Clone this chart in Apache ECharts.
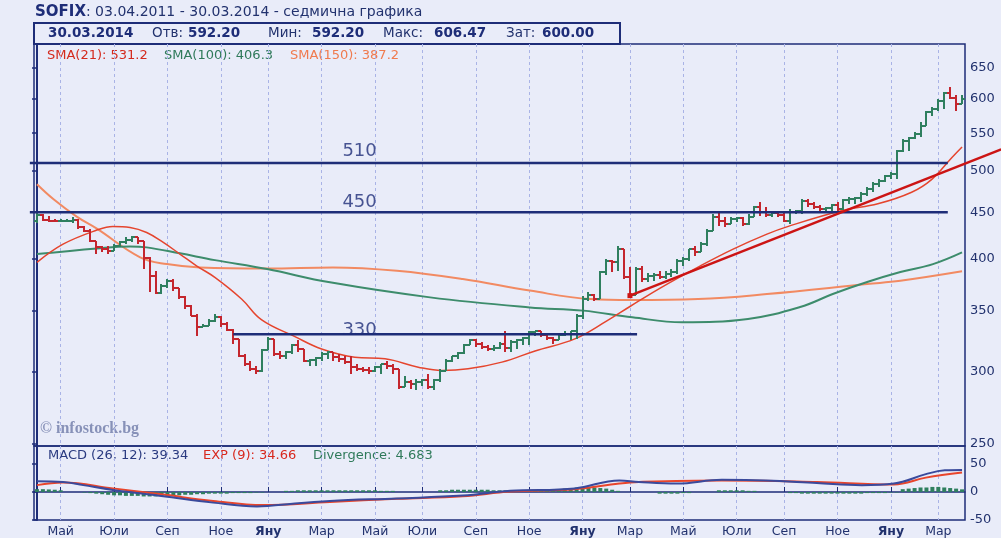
<!DOCTYPE html>
<html><head><meta charset="utf-8">
<script src="https://cdn.jsdelivr.net/npm/echarts/dist/echarts.min.js"></script>
<style>html,body{margin:0;padding:0;background:#e9ecf9}#c{width:1001px;height:538px}</style>
</head><body><div id="c"></div><script>
// ---- weekly OHLC, SOFIX 03.04.2011 - 30.03.2014 (157 weeks) ----
const open = [440.1,446.5,441.2,440.1,439.8,439.8,440.3,441.2,432.9,429.1,418.4,411.5,409.7,407.9,413.1,416.7,419.5,422.0,418.4,400.2,382.9,366.4,372.7,378.0,370.9,362.4,354.3,346.0,336.0,337.3,341.6,345.1,338.8,333.6,326.1,312.6,306.0,302.2,300.9,317.4,326.1,313.9,312.6,315.3,320.7,317.9,308.6,309.2,310.6,313.9,315.3,311.3,310.0,307.4,303.5,302.2,301.6,300.9,303.5,306.0,304.7,302.2,288.6,292.3,291.1,292.3,293.5,288.6,293.5,300.9,308.6,312.1,314.5,320.7,325.5,322.1,319.4,317.9,318.5,322.1,318.5,323.4,324.8,326.7,331.5,332.3,329.5,326.7,324.8,329.5,330.3,332.6,345.7,360.9,364.6,360.9,386.5,397.4,396.4,409.7,381.6,364.6,389.4,379.7,382.6,383.5,381.6,384.5,386.5,397.4,399.4,409.7,406.6,414.9,428.8,444.3,439.8,436.5,442.0,443.1,436.5,444.3,455.7,450.0,446.5,448.8,446.5,439.8,450.0,451.1,462.7,459.1,455.7,453.4,454.5,458.0,453.4,463.8,465.0,466.2,471.0,477.0,483.1,486.8,493.0,495.5,525.2,538.8,542.9,548.4,559.6,579.9,584.3,596.3,608.5,600.8,592.2];
const high = [449.6,447.7,445.7,442.8,442.0,442.0,444.0,442.0,434.6,431.7,418.4,413.1,413.1,414.9,418.4,422.0,423.7,422.0,418.4,401.2,387.7,374.9,379.7,379.7,371.6,363.9,355.4,347.4,338.8,343.1,347.4,345.5,340.3,334.5,326.1,313.9,308.6,304.7,317.9,327.5,326.1,316.6,316.6,322.1,324.8,317.9,310.0,311.3,315.3,316.6,315.3,313.9,312.6,312.6,306.0,303.5,303.5,304.7,306.0,308.6,306.0,302.2,297.1,293.5,294.6,294.6,298.3,294.6,302.2,310.0,312.6,315.3,322.1,326.1,326.1,323.4,320.7,320.7,323.4,333.1,324.8,326.1,327.5,332.3,333.1,332.3,329.5,327.6,330.3,333.1,333.1,347.4,363.6,367.3,365.5,387.5,399.4,398.4,412.8,409.7,391.4,391.4,392.4,385.5,385.5,387.5,387.5,389.4,399.4,401.5,409.7,412.8,417.0,431.0,447.7,450.0,444.3,444.3,444.3,444.3,447.7,456.8,461.5,455.7,451.1,450.0,450.0,453.4,452.2,465.0,465.0,461.5,458.0,455.7,459.1,461.5,465.0,467.4,467.4,473.4,479.4,485.5,489.2,494.2,498.0,526.6,541.5,544.3,551.2,565.3,581.4,587.3,599.3,610.0,618.0,605.4,606.47];
const low = [437.6,439.5,438.4,438.4,438.4,438.4,437.6,431.7,427.4,416.7,404.6,406.3,404.6,407.9,411.5,414.9,416.7,414.9,389.4,367.1,365.5,365.5,371.6,368.5,360.9,351.9,345.4,328.9,336.0,337.3,340.3,336.0,332.3,322.1,311.3,304.7,300.9,298.3,299.6,317.4,312.6,310.0,310.0,313.9,315.3,307.4,304.7,304.7,308.6,310.0,308.6,307.4,306.0,298.3,300.9,299.6,298.3,299.6,298.3,302.2,298.3,287.3,288.6,287.3,286.1,289.6,287.3,286.1,292.3,300.9,307.4,310.0,313.9,320.7,319.4,317.9,316.6,316.6,317.9,315.3,315.3,317.9,320.7,320.7,328.9,327.6,324.8,322.1,324.8,328.9,324.8,326.1,343.1,359.1,359.1,360.9,383.5,386.5,387.5,379.7,363.6,364.6,376.8,376.8,377.7,379.7,379.7,381.6,384.5,392.4,397.4,402.5,406.6,412.8,428.8,434.3,433.2,436.5,438.7,434.3,435.4,444.3,445.4,444.3,444.3,444.3,438.7,436.5,447.7,447.7,455.7,453.4,450.0,450.0,451.1,451.1,452.2,459.1,459.1,461.5,468.6,473.4,479.4,485.5,489.2,489.2,523.9,525.2,541.5,544.3,559.6,574.1,581.4,584.3,599.3,581.4,592.2];
const close = [446.5,441.2,440.1,439.8,439.8,440.3,441.2,432.9,429.1,418.4,411.5,409.7,407.9,413.1,416.7,419.5,422.0,418.4,400.2,382.9,366.4,372.7,378.0,370.9,362.4,354.3,346.0,336.0,337.3,341.6,345.1,338.8,333.6,326.1,312.6,306.0,302.2,300.9,317.4,326.1,313.9,312.6,315.3,320.7,317.9,308.6,309.2,310.6,313.9,315.3,311.3,310.0,307.4,303.5,302.2,301.6,300.9,303.5,306.0,304.7,302.2,288.6,292.3,291.1,292.3,293.5,288.6,293.5,300.9,308.6,312.1,314.5,320.7,325.5,322.1,319.4,317.9,318.5,322.1,318.5,323.4,324.8,326.7,331.5,332.3,329.5,326.7,324.8,329.5,330.3,332.6,345.7,360.9,364.6,360.9,386.5,397.4,396.4,409.7,381.6,364.6,389.4,379.7,382.6,383.5,381.6,384.5,386.5,397.4,399.4,409.7,406.6,414.9,428.8,444.3,439.8,436.5,442.0,443.1,436.5,444.3,455.7,450.0,446.5,448.8,446.5,439.8,450.0,451.1,462.7,459.1,455.7,453.4,454.5,458.0,453.4,463.8,465.0,466.2,471.0,477.0,483.1,486.8,493.0,495.5,525.2,538.8,542.9,548.4,559.6,579.9,584.3,596.3,608.5,600.8,592.2,600.0];

// ---- moving averages, read as [week index, value] ----
const sma21 = [[0,396.1],[4.4,414.9],[10.1,430.0],[12.8,434.0],[15.7,432.9],[18.5,427.4],[21.3,416.7],[24.1,404.6],[26.9,392.7],[30,381.3],[34.5,360.9],[37.9,342.2],[43.5,328.0],[48,317.9],[53.6,311.3],[58.7,310.0],[64.3,303.5],[68.3,300.9],[72.7,302.2],[78.4,307.4],[84,316.3],[90.7,326.1],[96.1,341.4],[100,354.1],[105.1,371.1],[111.8,392.4],[117.4,409.7],[123.1,425.6],[126.7,434.1],[135.8,451.9],[141.8,459.7],[147.5,473.4],[150.9,489.2],[154.3,517.2],[156,531.2]];
const sma100 = [[0,404.6],[10.1,410.4],[15.7,412.5],[18.5,411.5],[24.1,405.3],[30,398.4],[38.8,389.4],[49.4,376.5],[66.3,362.4],[83.1,353.3],[92.1,350.4],[100.4,344.5],[108.8,340.2],[119.9,343.1],[128.7,353.6],[134.2,365.5],[140,376.8],[145.6,386.5],[151.1,394.4],[156,406.3]];
const sma150 = [[0,483.1],[2.8,465.0],[6.7,444.9],[10.1,431.5],[17.4,401.2],[21.9,394.4],[27.5,391.1],[38.8,390.1],[49.9,391.1],[60.7,387.8],[71.8,379.7],[83.1,368.7],[93.3,360.9],[100.3,360.0],[111.5,360.9],[123.1,365.5],[140,374.9],[145.6,378.0],[156,387.2]];

// ---- MACD panel ----
const macd = [[0,19],[4.4,17.8],[7.8,12.2],[12.8,3.7],[21.3,-7.6],[29.7,-19],[37.1,-25.7],[39.3,-24.5],[49.4,-16],[60.7,-11.5],[71.8,-6.4],[79.8,2],[90.7,6.4],[98.2,20.6],[101.5,17.8],[107.9,15],[115.5,21.7],[122.9,20.6],[131.5,16],[139.1,12.2],[144.5,15],[149.9,31.8],[153.1,38.6],[156,39.34]];
const signal = [[0,12.2],[4.4,17],[12.8,6.4],[21.3,-4.7],[29.7,-16],[38.1,-23.4],[49.4,-17.8],[60.7,-12.3],[71.8,-7.6],[79.8,0.8],[90.7,5],[98.2,15],[101.5,17.8],[115.5,20.6],[131.5,17.8],[144.5,13.5],[149.9,25.6],[156,34.66]];
const divergence = [5,5,4.5,4,3, 0,0,0,
 -1,-2,-3,-4,-5,-6,-6,-7,-7,-7,-8,-8,-8,-7,-7,-6,-6,-5,-5,-4,-4,-3,-3,-3,-3,-2,-2,-2,-2,-1,-1,
 0,0,0,
 2,2,3,3,3,3,3,3,3,3,3,3,3,3,3,3,2,2,2,
 0,0,0,0,0,0,0,
 3,3,4,4,4,4,4,4,4,3,3,3,3,
 3,3,3,3,3,4,4,5,6,7,8,9,9,8,7,6,4,
 2,0,0, 0,0,0,0,
 -3,-3,-3,-3,-2,-2, 0,0,0,0,
 3,3,3,3,3,2,2, 0,0,0,0,0,
 -2,-2,-3,-3,-3,-3,-3,-3,-3,-3,-3,-3,-3,-2,-2,-2,-2,-1,-1,
 5,6,7,8,8,9,9,8,7,6,4.683];

// ---- support / resistance levels and trend line ----
const levels = [510, 450, 330];
const levelFrom = [-1.2, -1.2, 33.1];
const levelTo = [153.6, 153.6, 101.2];
const levelLabelAt = 54.4;
const trend = [[100, 364], [162.6, 528]];

// ---- axis ticks ----
const priceTicks = [250, 300, 350, 400, 450, 500, 550, 600, 650];
const macdTicks = [-50, 0, 50];
const monthTickIdx = [4, 13, 22, 31, 39, 48, 57, 65, 74, 83, 92, 100, 109, 118, 126, 135, 144, 152];
const monthTickLabels = ['Май','Юли','Сеп','Ное','Яну','Мар','Май','Юли','Сеп','Ное','Яну','Мар','Май','Юли','Сеп','Ное','Яну','Мар'];

// ---- header texts ----
const headerRow = [['30.03.2014', true], ['Отв:', false], ['592.20', true], ['Мин:', false], ['592.20', true], ['Макс:', false], ['606.47', true], ['Зат:', false], ['600.00', true]];
const smaLegend = [['SMA(21): 531.2', '#d42a1e'], ['SMA(100): 406.3', '#2f7a5a'], ['SMA(150): 387.2', '#f07a4e']];
const macdLegend = [['MACD (26, 12): 39.34', '#2a3a80'], ['EXP (9): 34.66', '#d8281e'], ['Divergence: 4.683', '#2f7a5a']];

// ---- styling / layout ----
const NAVY = '#1e2d78', TXT = '#22326e', GREEN = '#2f7f5f', RED = '#c4262e';
const GRIDC = '#a9b3e6';
const FONT = '"DejaVu Sans", Verdana, sans-serif';
const headerRowX = [48, 152, 188, 268, 312, 383, 434, 506, 542];
const smaLegendX = [47, 164, 290];
const macdLegendX = [48, 203, 313];
const levelLabelLift = [12, 10, 4];
const LN = Math.log;
const yMinLn = LN(248.4), yMaxLn = LN(690);
const W = 931 / 157;

const ohlcData = close.map((c, i) => [i, LN(open[i]), LN(c), LN(low[i]), LN(high[i])]);
const lnPairs = arr => arr.map(p => [p[0], LN(p[1])]);

function renderOHLC(params, api) {
  const i = api.value(0);
  const o = api.value(1), c = api.value(2), l = api.value(3), h = api.value(4);
  const ph = api.coord([i, h]), pl = api.coord([i, l]), po = api.coord([i, o]), pc = api.coord([i, c]);
  const col = c >= o ? GREEN : RED;
  const x = Math.round(ph[0]);
  let y1 = Math.round(ph[1]), y2 = Math.round(pl[1]);
  if (y2 - y1 < 3) { y1 -= 1; y2 += 1; }
  const yo = Math.round(po[1]), yc = Math.round(pc[1]);
  const st = { stroke: col, lineWidth: 2 };
  return { type: 'group', children: [
    { type: 'line', shape: { x1: x, y1: y1, x2: x, y2: y2 }, style: st },
    { type: 'line', shape: { x1: x - 3, y1: yo, x2: x, y2: yo }, style: st },
    { type: 'line', shape: { x1: x, y1: yc, x2: x + 3, y2: yc }, style: st }
  ] };
}

const series = [
  { type: 'line', xAxisIndex: 0, yAxisIndex: 0, data: lnPairs(sma150), smooth: 0.4, showSymbol: false, lineStyle: { color: '#f28a62', width: 2 }, z: 2 },
  { type: 'line', xAxisIndex: 0, yAxisIndex: 0, data: lnPairs(sma100), smooth: 0.4, showSymbol: false, lineStyle: { color: '#3d8c6c', width: 2 }, z: 2 },
  { type: 'line', xAxisIndex: 0, yAxisIndex: 0, data: lnPairs(sma21), smooth: 0.4, showSymbol: false, lineStyle: { color: '#e5452e', width: 1.5 }, z: 2 },
  { type: 'custom', xAxisIndex: 0, yAxisIndex: 0, data: ohlcData, renderItem: renderOHLC, encode: { x: 0, y: [1, 2, 3, 4] }, clip: true, z: 3 }
];
levels.forEach((lv, k) => {
  series.push({ type: 'line', xAxisIndex: 2, yAxisIndex: 2, data: [[levelFrom[k], LN(lv)], [levelTo[k], LN(lv)]], showSymbol: false, lineStyle: { color: NAVY, width: 2.5 }, z: 4 });
});
series.push({ type: 'scatter', xAxisIndex: 2, yAxisIndex: 2, symbolSize: 1, itemStyle: { color: 'rgba(0,0,0,0)' },
  data: levels.map((lv, k) => ({ value: [levelLabelAt, LN(lv), lv], label: { offset: [0, -levelLabelLift[k]] } })),
  label: { show: true, position: 'inside', formatter: p => String(p.value[2]), color: NAVY, fontFamily: FONT, fontSize: 18 }, z: 5 });
series.push({ type: 'line', xAxisIndex: 2, yAxisIndex: 2, data: lnPairs(trend), showSymbol: true, symbol: 'rect', symbolSize: [5, 5],
  itemStyle: { color: '#cc1414' }, lineStyle: { color: '#cc1414', width: 2.5 }, z: 5 });
series.push({ type: 'bar', xAxisIndex: 1, yAxisIndex: 1, data: divergence.map((v, i) => [i, v]), barWidth: 4, itemStyle: { color: GREEN }, z: 2 });
series.push({ type: 'line', xAxisIndex: 1, yAxisIndex: 1, data: signal, smooth: 0.4, showSymbol: false, lineStyle: { color: '#e8452c', width: 2 }, z: 3 });
series.push({ type: 'line', xAxisIndex: 1, yAxisIndex: 1, data: macd, smooth: 0.4, showSymbol: false, lineStyle: { color: '#3a4a9c', width: 2 }, z: 4 });

const monthFmt = v => {
  const k = monthTickIdx.indexOf(Math.round(v));
  if (k < 0) return '';
  const t = monthTickLabels[k];
  return t === 'Яну' ? '{b|' + t + '}' : t;
};

const graphics = [
  { type: 'text', left: 35, top: 5, style: { text: '{b|SOFIX}{n|: 03.04.2011 - 30.03.2014 - седмична графика}',
    rich: { b: { font: 'bold 15px ' + FONT, fill: NAVY }, n: { font: '14px ' + FONT, fill: TXT } } } },
  { type: 'rect', shape: { x: 34, y: 23, width: 586, height: 21 }, style: { fill: 'transparent', stroke: NAVY, lineWidth: 2 } },
  { type: 'text', left: 40, top: 421, style: { text: '© infostock.bg', font: 'bold 16px "Liberation Serif", serif', fill: '#8791b8' } }
];
headerRow.forEach((t, k) => graphics.push({ type: 'text', left: headerRowX[k], top: 26,
  style: { text: t[0], font: (t[1] ? 'bold 13.5px ' : '13.5px ') + FONT, fill: t[1] ? NAVY : TXT } }));
smaLegend.forEach((t, k) => graphics.push({ type: 'text', left: smaLegendX[k], top: 49, style: { text: t[0], font: '13px ' + FONT, fill: t[1] } }));
macdLegend.forEach((t, k) => graphics.push({ type: 'text', left: macdLegendX[k], top: 449, style: { text: t[0], font: '13px ' + FONT, fill: t[1] } }));

const option = {
  animation: false,
  backgroundColor: '#e9ecf9',
  grid: [
    { left: 34, width: 931, top: 44, height: 402, show: true, borderColor: NAVY, borderWidth: 1.5, backgroundColor: 'transparent' },
    { left: 34, width: 931, top: 446, height: 79, show: true, borderColor: NAVY, borderWidth: 1.5, backgroundColor: 'transparent' },
    { left: 0, width: 1001, top: 44, height: 402, show: false }
  ],
  xAxis: [
    { type: 'value', gridIndex: 0, min: -0.5, max: 156.5, axisLine: { show: false }, axisLabel: { show: false },
      axisTick: { show: false, customValues: monthTickIdx },
      splitLine: { show: true, lineStyle: { color: GRIDC, type: [3, 3], width: 1 } } },
    { type: 'value', gridIndex: 1, min: -0.5, max: 156.5, axisLine: { show: true, lineStyle: { color: NAVY, width: 1.5 } },
      axisTick: { show: true, inside: true, length: 5, customValues: monthTickIdx, lineStyle: { color: NAVY } },
      axisLabel: { show: true, customValues: monthTickIdx, formatter: monthFmt, color: TXT, fontFamily: FONT, fontSize: 12.5, margin: 5,
        rich: { b: { fontWeight: 'bold', color: TXT, fontFamily: FONT, fontSize: 12.5 } } },
      splitLine: { show: true, lineStyle: { color: GRIDC, type: [3, 3], width: 1 } } },
    { type: 'value', gridIndex: 2, min: -0.5 - 34 / W, max: 156.5 + 36 / W, show: false }
  ],
  yAxis: [
    { type: 'value', gridIndex: 0, position: 'right', min: yMinLn, max: yMaxLn,
      axisLine: { show: true, lineStyle: { color: NAVY, width: 2 } },
      axisTick: { show: true, inside: true, length: 5, customValues: priceTicks.map(LN), lineStyle: { color: NAVY, width: 1.5 } },
      axisLabel: { show: true, customValues: priceTicks.map(LN), formatter: v => String(Math.round(Math.exp(v))), color: TXT, fontFamily: FONT, fontSize: 13, margin: 5 },
      splitLine: { show: false } },
    { type: 'value', gridIndex: 1, position: 'right', min: -50, max: 82,
      axisLine: { show: true, lineStyle: { color: NAVY, width: 2 } },
      axisTick: { show: true, inside: true, length: 5, customValues: macdTicks, lineStyle: { color: NAVY, width: 1.5 } },
      axisLabel: { show: true, customValues: macdTicks, color: TXT, fontFamily: FONT, fontSize: 13, margin: 5 },
      splitLine: { show: false } },
    { type: 'value', gridIndex: 2, min: yMinLn, max: yMaxLn, show: false }
  ],
  graphic: graphics,
  series: series
};
echarts.init(document.getElementById('c')).setOption(option);
</script></body></html>
